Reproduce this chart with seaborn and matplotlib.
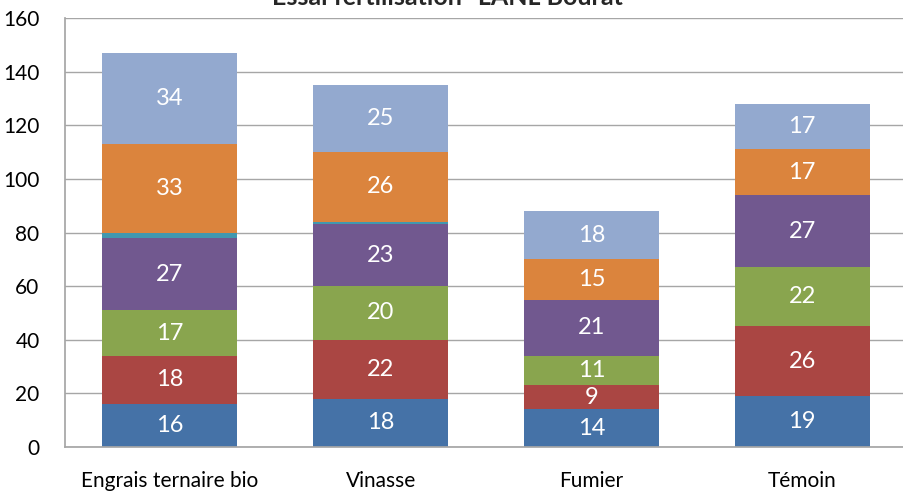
import matplotlib
matplotlib.use("Agg")
import matplotlib.pyplot as plt
import seaborn as sns
import numpy as np

categories = ["Engrais ternaire bio", "Vinasse", "Fumier", "Témoin"]
s1 = [16, 18, 14, 19]
s2 = [18, 22, 9, 26]
s3 = [17, 20, 11, 22]
s4 = [27, 23, 21, 27]
s5 = [2, 1, 0, 0]
s6 = [33, 26, 15, 17]
s7 = [34, 25, 18, 17]
series = [s1, s2, s3, s4, s5, s6, s7]
colors = ["#4572A7", "#AA4643", "#89A54E", "#71588F", "#4198AF", "#DB843D", "#93A9CF"]
show_labels = [True, True, True, True, False, True, True]

sns.set_theme(style="white")
plt.rcParams["font.family"] = ["Lato", "DejaVu Sans"]

fig = plt.figure(figsize=(9.04, 4.91), dpi=100)
ax = fig.add_axes([0.0714, 0.0896, 0.9325, 0.8737])

bottom = np.zeros(len(categories))
for vals, col, lab in zip(series, colors, show_labels):
    sns.barplot(x=categories, y=vals, bottom=bottom, color=col, width=0.64,
                linewidth=0, saturation=1, ax=ax)
    if lab:
        for i, v in enumerate(vals):
            if v > 0:
                ax.text(i, bottom[i] + v / 2, str(v), ha="center", va="center",
                        color="white", fontsize=17)
    bottom = bottom + np.array(vals)

ax.set_ylim(0, 160)
ax.set_xlim(-0.5, 3.5)
ax.set_yticks(range(0, 161, 20))
ax.yaxis.grid(True, color="#A6A6A6", linewidth=1)
ax.set_axisbelow(True)
for side in ["top", "right"]:
    ax.spines[side].set_visible(False)
ax.spines["left"].set_color("#A6A6A6")
ax.spines["bottom"].set_color("#A6A6A6")
ax.tick_params(axis="both", length=0, labelsize=15, colors="black")
ax.tick_params(axis="x", pad=17)
ax.tick_params(axis="y", pad=18)
ax.set_xlabel("")
ax.set_ylabel("")

fig.text(0.5, 1 - 5 / 491, "Essai fertilisation \"LANL Bourat\"", ha="center",
         va="baseline", fontsize=18, fontweight="bold")

fig.savefig("out.png", dpi=100)
